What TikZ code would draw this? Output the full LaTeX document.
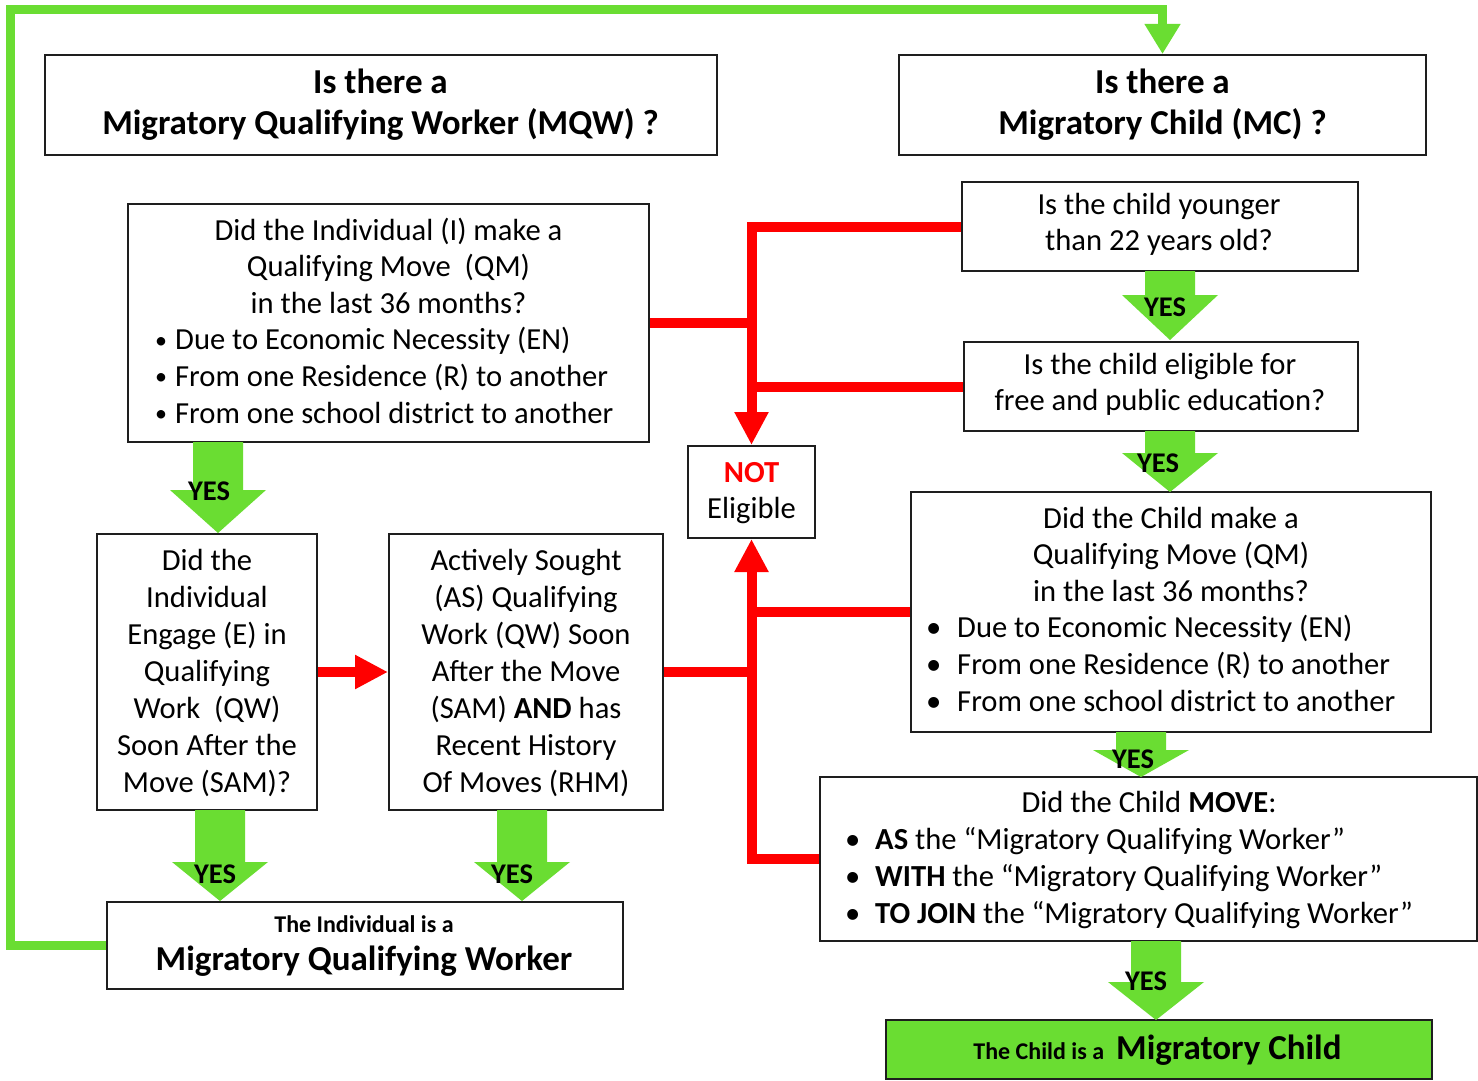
\documentclass[tikz,border=0pt]{standalone}
\usepackage{fontspec}
\setmainfont{Carlito}
\usetikzlibrary{arrows.meta}
\definecolor{ygreen}{RGB}{106,221,50}
\definecolor{boxline}{RGB}{30,30,30}
\tikzset{
 box/.style={draw=boxline, line width=2pt, fill=white, inner sep=0pt},
 txt/.style={inner sep=0pt, anchor=base, font=\fontsize{30.6}{36.6}\selectfont},
 txtl/.style={txt, anchor=base west},
 hdr/.style={inner sep=0pt, anchor=base, font=\bfseries\fontsize{35}{41}\selectfont},
 yes/.style={inner sep=0pt, anchor=base, font=\bfseries\fontsize{28.5}{30}\selectfont},
 redline/.style={draw=red, line width=10pt, line join=miter},
 redarrow/.style={redline, -{Triangle[width=32pt,length=33pt]}},
 greenline/.style={draw=ygreen, line width=9pt, line join=miter},
}
\newcommand\yesarrow[4]{\fill[ygreen] (#1-25,#2) -- (#1+25,#2) -- (#1+25,#3) -- (#1+48,#3) -- (#1,#4) -- (#1-48,#3) -- (#1-25,#3) -- cycle;}
\newcommand\bul[1]{\makebox[#1][l]{•}}
\newcommand\sbul[1]{\makebox[#1][l]{\raisebox{1.5pt}{\fontsize{24}{24}\selectfont •}}}
\begin{document}
\begin{tikzpicture}[x=1pt,y=-1pt]
\useasboundingbox (0,0) rectangle (1478,1081);
\fill[white] (0,0) rectangle (1478,1081);
% boxes
\node[box, minimum width=672pt, minimum height=100pt] (mqwh) at (381,105) {};
\node[box, minimum width=527pt, minimum height=100pt] (mch) at (1162.5,105) {};
\node[box, minimum width=521pt, minimum height=238pt] (bI) at (388.5,323) {};
\node[box, minimum width=396pt, minimum height=89pt] (young) at (1160,226.5) {};
\node[box, minimum width=394pt, minimum height=89pt] (elig) at (1161,386.5) {};
\node[box, minimum width=127pt, minimum height=92pt] (notel) at (751.5,492) {};
\node[box, minimum width=520pt, minimum height=240pt] (cqm) at (1171,612) {};
\node[box, minimum width=220pt, minimum height=276pt] (eng) at (207,672) {};
\node[box, minimum width=274pt, minimum height=276pt] (act) at (526,672) {};
\node[box, minimum width=657pt, minimum height=164pt] (move) at (1148.5,859) {};
\node[box, minimum width=516pt, minimum height=87pt] (mqwr) at (365,945.5) {};
\node[box, fill=ygreen, minimum width=546pt, minimum height=59pt] (mcr) at (1159,1049.5) {};
% texts
\node[hdr] (mqwht) at (380.5,93) {\begin{tabular}[t]{@{}c@{}}Is there a\\ Migratory Qualifying Worker (MQW) ?\end{tabular}};
\node[hdr] (mcht) at (1162.5,93) {\begin{tabular}[t]{@{}c@{}}Is there a\\ Migratory Child (MC) ?\end{tabular}};
\node[txt] (bIt) at (388.5,240) {\begin{tabular}[t]{@{}c@{}}Did the Individual (I) make a\\ Qualifying Move\ \ (QM)\\ in the last 36 months?\end{tabular}};
\node[txtl] (bIb) at (155,349.8) {\begin{tabular}[t]{@{}l@{}}\sbul{20pt}Due to Economic Necessity (EN)\\ \sbul{20pt}From one Residence (R) to another\\ \sbul{20pt}From one school district to another\end{tabular}};
\node[txt] (youngt) at (1159,214) {\begin{tabular}[t]{@{}c@{}}Is the child younger\\ than 22 years old?\end{tabular}};
\node[txt] (eligt) at (1160,374) {\begin{tabular}[t]{@{}c@{}}Is the child eligible for\\ free and public education?\end{tabular}};
\node[txt] (notelt) at (751.5,482) {\begin{tabular}[t]{@{}c@{}}\textcolor{red}{\textbf{NOT}}\\ Eligible\end{tabular}};
\node[txt] (cqmt) at (1171,528) {\begin{tabular}[t]{@{}c@{}}Did the Child make a\\ Qualifying Move (QM)\\ in the last 36 months?\end{tabular}};
\node[txtl] (cqmb) at (926,637.8) {\begin{tabular}[t]{@{}l@{}}\bul{31pt}Due to Economic Necessity (EN)\\ \bul{31pt}From one Residence (R) to another\\ \bul{31pt}From one school district to another\end{tabular}};
\node[txt, font=\fontsize{30.6}{37}\selectfont] (engt) at (207,570) {\begin{tabular}[t]{@{}c@{}}Did the\\ Individual\\ Engage (E) in\\ Qualifying\\ Work\ \ (QW)\\ Soon After the\\ Move (SAM)?\end{tabular}};
\node[txt, font=\fontsize{30.6}{37}\selectfont] (actt) at (526,570) {\begin{tabular}[t]{@{}c@{}}Actively Sought\\ (AS) Qualifying\\ Work (QW) Soon\\ After the Move\\ (SAM) \textbf{AND} has\\ Recent History\\ Of Moves (RHM)\end{tabular}};
\node[txt] (movet) at (1149,812) {Did the Child \textbf{MOVE}:};
\node[txtl, font=\fontsize{30.6}{37}\selectfont] (moveb) at (845,849) {\begin{tabular}[t]{@{}l@{}}\bul{30pt}\textbf{AS} the “Migratory Qualifying Worker”\\ \bul{30pt}\textbf{WITH} the “Migratory Qualifying Worker”\\ \bul{30pt}\textbf{TO JOIN} the “Migratory Qualifying Worker”\end{tabular}};
\node[inner sep=0pt, anchor=base, font=\bfseries\fontsize{24}{26}\selectfont] (mqwr1) at (364,932) {The Individual is a};
\node[inner sep=0pt, anchor=base, font=\bfseries\fontsize{35}{38}\selectfont] (mqwr2) at (364,970) {Migratory Qualifying Worker};
\node[inner sep=0pt, anchor=base, font=\bfseries] (mcrt) at (1157.5,1059) {{\fontsize{24}{26}\selectfont The Child is a}\hspace{12pt}{\fontsize{35}{38}\selectfont Migratory Child}};
% green loop
\coordinate (gc1) at (10,10);
\draw[greenline, -{Triangle[width=34pt,length=30pt]}] (mqwr.west) -| (gc1) -| (mch.north);
% red connectors
\draw[redarrow] (young.west) -| (notel.north);
\draw[redline] (bI.east) -- (bI.east -| notel.north);
\draw[redline] (elig.west) -- (elig.west -| notel.north);
\draw[redarrow] (move.west) -| (notel.south);
\draw[redline] (cqm.west) -- (cqm.west -| notel.south);
\draw[redline] (act.east) -- (act.east -| notel.south);
\draw[redarrow] (eng.east) -- (act.west);
% YES arrows
\yesarrow{218}{442}{490}{533}
\yesarrow{220}{810}{862}{901}
\yesarrow{522}{810}{862}{901}
\yesarrow{1170}{271}{295}{340}
\yesarrow{1170}{431}{453}{492}
\yesarrow{1141}{732}{750}{777}
\yesarrow{1156}{941}{982}{1020}
\node[yes] (y1) at (209,500) {YES};
\node[yes] (y2) at (215,883) {YES};
\node[yes] (y3) at (512,883) {YES};
\node[yes] (y4) at (1165,316) {YES};
\node[yes] (y5) at (1158,472) {YES};
\node[yes] (y6) at (1133,768) {YES};
\node[yes] (y7) at (1146,990) {YES};
\end{tikzpicture}
\end{document}
